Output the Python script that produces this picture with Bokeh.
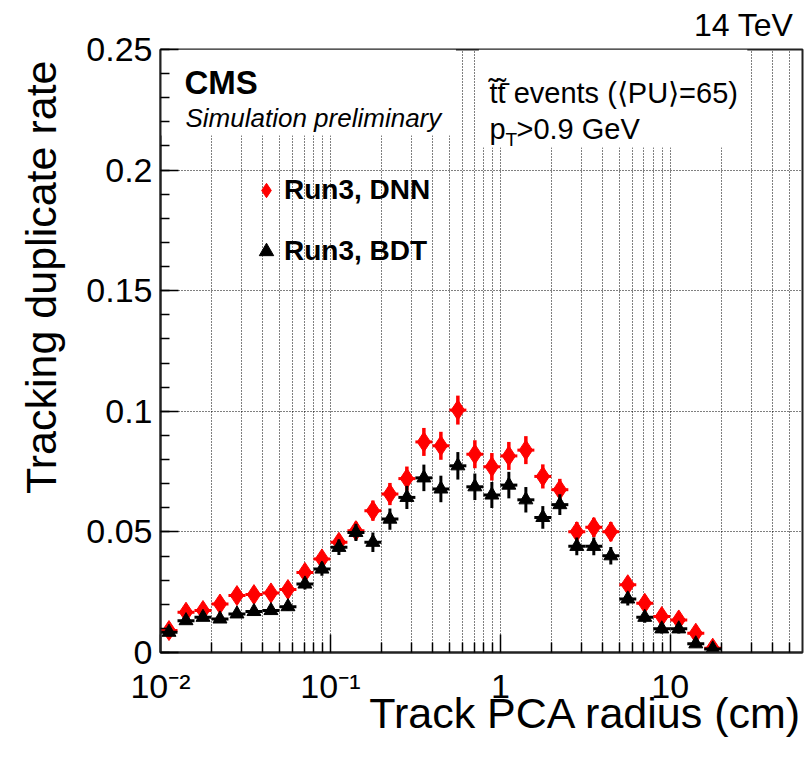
import math
from bokeh.plotting import figure
from bokeh.models import (ColumnDataSource, Label, Legend, LegendItem, FixedTicker,
                          BoxAnnotation, Title)
from bokeh.embed import file_html
from bokeh.resources import INLINE

# ---------------- data ----------------
x_centers = [0.01122, 0.01413, 0.01778, 0.02239, 0.02818, 0.03548, 0.04467, 0.05623,
             0.07079, 0.08913, 0.1122, 0.1413, 0.1778, 0.2239, 0.2818, 0.3548,
             0.4467, 0.5623, 0.7079, 0.8913, 1.122, 1.413, 1.778, 2.239,
             2.818, 3.548, 4.467, 5.623, 7.079, 8.913, 11.22, 14.13, 17.78]
bin_half_width_dex = 0.05

dnn_rate = [0.0091, 0.0167, 0.0174, 0.0201, 0.0236, 0.0240, 0.0247, 0.0261,
            0.0332, 0.0388, 0.0457, 0.0505, 0.0588, 0.0657, 0.0721, 0.0873,
            0.0857, 0.1005, 0.0822, 0.0770, 0.0815, 0.0839, 0.0730, 0.0675,
            0.0501, 0.0519, 0.0501, 0.0281, 0.0204, 0.0149, 0.0135, 0.0080, 0.0018]
dnn_err = [0.0012, 0.0015, 0.0015, 0.0017, 0.0018, 0.0018, 0.0019, 0.0020,
           0.0025, 0.0030, 0.0034, 0.0037, 0.0042, 0.0046, 0.0050, 0.0058,
           0.0058, 0.0060, 0.0058, 0.0057, 0.0058, 0.0058, 0.0050, 0.0045,
           0.0040, 0.0040, 0.0040, 0.0030, 0.0026, 0.0022, 0.0022, 0.0018, 0.0010]

bdt_rate = [0.0084, 0.0132, 0.0146, 0.0139, 0.0160, 0.0170, 0.0174, 0.0190,
            0.0284, 0.0346, 0.0436, 0.0498, 0.0457, 0.0553, 0.0643, 0.0724,
            0.0678, 0.0774, 0.0687, 0.0653, 0.0694, 0.0633, 0.0560, 0.0613,
            0.0440, 0.0440, 0.0401, 0.0222, 0.0146, 0.0098, 0.0098, 0.0036, 0.0015]
bdt_err = [0.0011, 0.0013, 0.0014, 0.0014, 0.0015, 0.0016, 0.0016, 0.0017,
           0.0023, 0.0028, 0.0032, 0.0036, 0.0040, 0.0044, 0.0048, 0.0055,
           0.0055, 0.0057, 0.0055, 0.0054, 0.0055, 0.0053, 0.0047, 0.0043,
           0.0037, 0.0037, 0.0036, 0.0027, 0.0023, 0.0019, 0.0019, 0.0014, 0.0008]

x_major_ticks = [0.01, 0.1, 1, 10]
x_tick_labels = ["10⁻²", "10⁻¹", "1", "10"]
y_ticks = [0, 0.05, 0.1, 0.15, 0.2, 0.25]
y_tick_labels = ["0", "0.05", "0.1", "0.15", "0.2", "0.25"]

series_names = ["Run3, DNN", "Run3, BDT"]
x_title = "Track PCA radius (cm)"
y_title = "Tracking duplicate rate"
energy_text = "14 TeV"

FONT = "Liberation Sans"

# ---------------- figure ----------------
p = figure(width=805, height=759, x_axis_type="log", x_range=(0.01, 60), y_range=(0, 0.25),
           output_backend="svg", toolbar_location=None,
           min_border_left=158, min_border_right=3, min_border_top=49, min_border_bottom=107)
p.background_fill_color = "white"
p.border_fill_color = "white"
p.outline_line_color = "#222222"
p.outline_line_width = 2

x_minor = [m * d for d in (0.01, 0.1, 1, 10) for m in range(2, 10) if m * d < 60]
p.xaxis.ticker = FixedTicker(ticks=x_major_ticks, minor_ticks=x_minor)
p.xaxis.major_label_overrides = dict(zip(x_major_ticks, x_tick_labels))
y_minor = [i * 0.01 for i in range(26)]
p.yaxis.ticker = FixedTicker(ticks=y_ticks, minor_ticks=y_minor)
p.yaxis.major_label_overrides = dict(zip(y_ticks, y_tick_labels))

for ax in (p.xaxis[0], p.yaxis[0]):
    ax.major_tick_in = 18
    ax.major_tick_out = 0
    ax.minor_tick_in = 10
    ax.minor_tick_out = 0
    ax.major_tick_line_color = "black"
    ax.minor_tick_line_color = "black"
    ax.major_tick_line_width = 1.5
    ax.minor_tick_line_width = 1.5
    ax.axis_line_color = "#222222"
    ax.axis_line_width = 2
    ax.major_label_text_font = FONT
    ax.major_label_text_font_size = "34px"
    ax.major_label_text_color = "black"
p.yaxis.minor_tick_in = 9
p.xaxis.major_label_standoff = 14
p.yaxis.major_label_standoff = 8

p.xgrid.grid_line_color = "black"
p.xgrid.grid_line_dash = "1 2"
p.xgrid.grid_line_width = 1
p.xgrid.minor_grid_line_color = "black"
p.xgrid.minor_grid_line_dash = "1 2"
p.xgrid.minor_grid_line_width = 1
p.ygrid.grid_line_color = "black"
p.ygrid.grid_line_dash = "1 2"
p.ygrid.grid_line_width = 1

# white panes (text boxes) hiding the grid behind the header texts
p.add_layout(BoxAnnotation(left=0.01, right=0.548, bottom=0.2143, top=0.25,
                           fill_color="white", fill_alpha=1, line_alpha=0, level="underlay"))
p.add_layout(BoxAnnotation(left=0.748, right=28.4, bottom=0.2094, top=0.25,
                           fill_color="white", fill_alpha=1, line_alpha=0, level="underlay"))

# ---------------- data marks ----------------
def make_source(rate, err):
    f = 10 ** bin_half_width_dex
    return ColumnDataSource(dict(
        x=x_centers, y=rate,
        lo=[r - e for r, e in zip(rate, err)],
        hi=[r + e for r, e in zip(rate, err)],
        xl=[c / f for c in x_centers],
        xr=[c * f for c in x_centers]))

dnn_src = make_source(dnn_rate, dnn_err)
bdt_src = make_source(bdt_rate, bdt_err)

RED = "#ff0000"
p.segment(x0="xl", y0="y", x1="xr", y1="y", source=dnn_src, line_color=RED, line_width=3)
p.segment(x0="x", y0="lo", x1="x", y1="hi", source=dnn_src, line_color=RED, line_width=3.5)
dnn_marks = p.scatter("x", "y", source=dnn_src, marker="diamond", size=20,
                      fill_color=RED, line_color=RED)

p.segment(x0="xl", y0="y", x1="xr", y1="y", source=bdt_src, line_color="black", line_width=3)
p.segment(x0="x", y0="lo", x1="x", y1="hi", source=bdt_src, line_color="black", line_width=3)
bdt_marks = p.scatter("x", "y", source=bdt_src, marker="triangle", size=14,
                      fill_color="black", line_color="black")

legend = Legend(items=[LegendItem(label=series_names[0], renderers=[dnn_marks]),
                       LegendItem(label=series_names[1], renderers=[bdt_marks])],
                location=(88, 383), glyph_width=36, glyph_height=36, label_height=36,
                spacing=25, padding=0, margin=0, label_standoff=0,
                label_text_font=FONT, label_text_font_size="28px",
                label_text_font_style="bold", label_text_color="black",
                border_line_alpha=0, background_fill_alpha=0)
p.add_layout(legend)

# ---------------- texts inside the frame ----------------
FL, FB = 158, 652  # page position of frame left / bottom


def lab(text, px, py, size, style="normal", align="left"):
    p.add_layout(Label(x=px - FL, y=FB - py, x_units="screen", y_units="screen",
                       text=text, text_font=FONT, text_font_size=f"{size}px",
                       text_font_style=style, text_align=align, text_color="black",
                       text_baseline="alphabetic"))


lab("CMS", 182, 82, 33, style="bold")
lab("Simulation preliminary", 183, 117, 26, style="italic")
lab("t\u0303t\u0303\u0304 events (\u27e8PU\u27e9=65)", 487, 92, 29)
lab("p", 487, 128, 29)
lab("T", 503, 139, 19)
lab(">0.9 GeV", 514, 128, 29)

# ---------------- titles outside the frame (right-aligned) ----------------
def title(text, size, side, vertical_align, standoff, offset):
    p.add_layout(Title(text=text, align="right", vertical_align=vertical_align,
                       text_font=FONT, text_font_size=f"{size}px",
                       text_font_style="normal", text_color="black",
                       standoff=standoff, offset=offset), side)


title(x_title, 43, "below", "top", -38, 0)
title(y_title, 43, "left", "top", 33, 11)
title(energy_text, 32, "above", "top", 10, 9)

open("out.html", "w").write(file_html(p, INLINE))
